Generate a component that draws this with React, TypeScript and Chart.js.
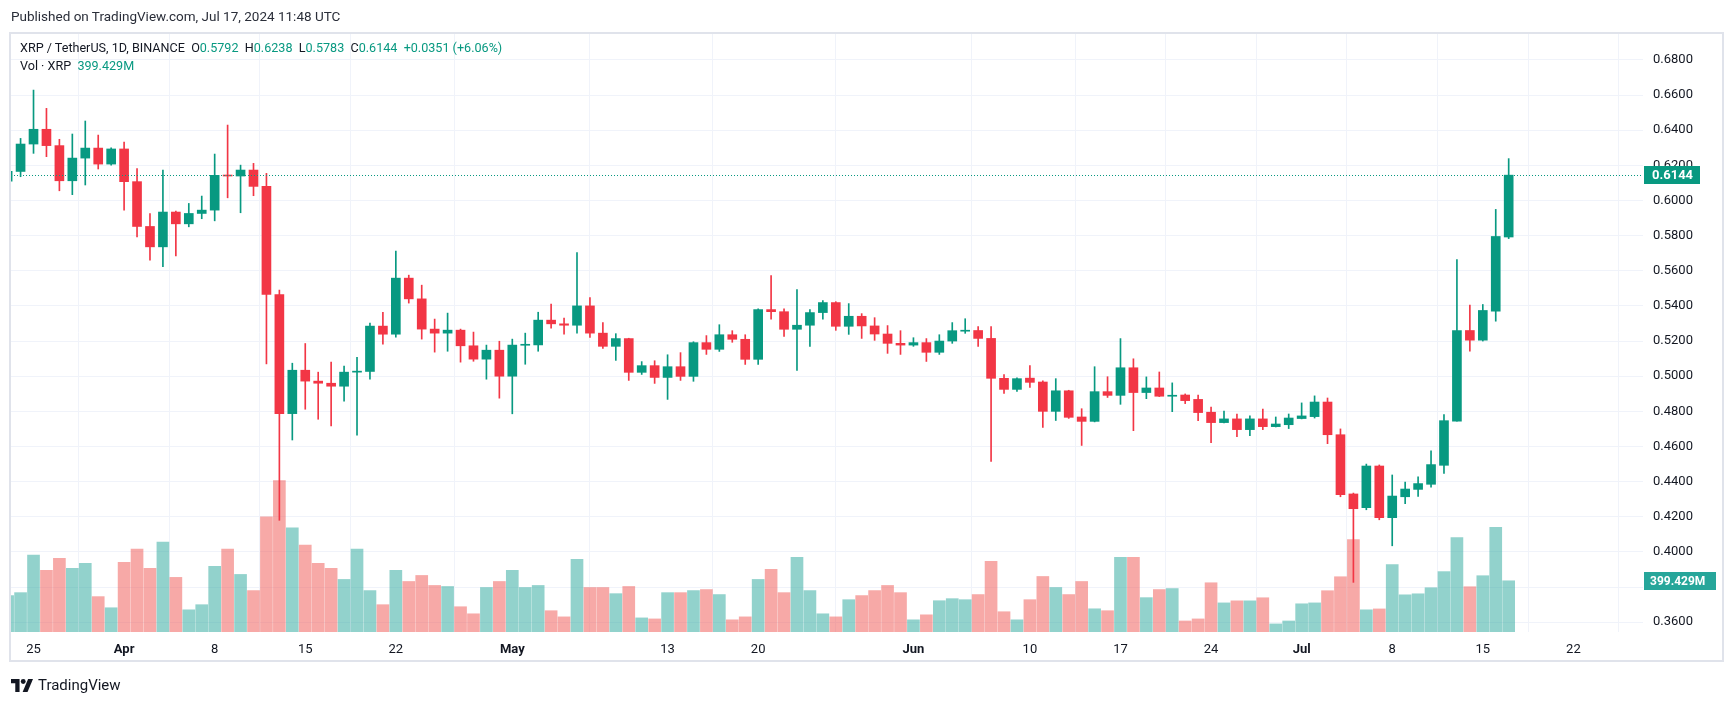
import React, { useEffect, useRef } from "react";
import { Chart, registerables } from "chart.js";

Chart.register(...registerables);

// Day index 0 = Mar 25, 2024. First candle is Mar 23 (day -2), last is Jul 17 (day 114).
const FIRST_DAY = -2;

const OPEN = [
  0.6110, 0.6165, 0.6321, 0.6405, 0.6312, 0.6112, 0.6241, 0.6298, 0.6207, 0.6293,
  0.6107, 0.5852, 0.5736, 0.5934, 0.5867, 0.5926, 0.5945, 0.6143, 0.6139, 0.6173,
  0.6080, 0.5465, 0.4787, 0.5034, 0.4972, 0.4960, 0.4943, 0.5023, 0.5027, 0.5285,
  0.5239, 0.5558, 0.5440, 0.5268, 0.5245, 0.5262, 0.5173, 0.5097, 0.5148, 0.5000,
  0.5176, 0.5178, 0.5319, 0.5298, 0.5290, 0.5400, 0.5245, 0.5170, 0.5214, 0.5022,
  0.5060, 0.4993, 0.5054, 0.4999, 0.5191, 0.5153, 0.5236, 0.5210, 0.5096, 0.5379,
  0.5367, 0.5267, 0.5290, 0.5362, 0.5419, 0.5284, 0.5341, 0.5286, 0.5240, 0.5187,
  0.5177, 0.5191, 0.5136, 0.5200, 0.5256, 0.5260, 0.5215, 0.4988, 0.4925, 0.4989,
  0.4967, 0.4800, 0.4917, 0.4768, 0.4743, 0.4912, 0.4891, 0.5048, 0.4907, 0.4933,
  0.4886, 0.4893, 0.4868, 0.4795, 0.4736, 0.4757, 0.4696, 0.4757, 0.4713, 0.4724,
  0.4759, 0.4770, 0.4853, 0.4667, 0.4330, 0.4252, 0.4489, 0.4195, 0.4314, 0.4356,
  0.4385, 0.4493, 0.4744, 0.5260, 0.5205, 0.5370, 0.5792,
];
const HIGH = [
  0.6180, 0.6353, 0.6628, 0.6524, 0.6348, 0.6378, 0.6452, 0.6372, 0.6300, 0.6332,
  0.6182, 0.5926, 0.6173, 0.5940, 0.5983, 0.6025, 0.6264, 0.6429, 0.6201, 0.6211,
  0.6154, 0.5490, 0.5074, 0.5186, 0.5023, 0.5080, 0.5057, 0.5108, 0.5302, 0.5364,
  0.5712, 0.5575, 0.5518, 0.5325, 0.5359, 0.5268, 0.5251, 0.5177, 0.5199, 0.5211,
  0.5245, 0.5364, 0.5410, 0.5330, 0.5703, 0.5447, 0.5305, 0.5242, 0.5216, 0.5083,
  0.5088, 0.5122, 0.5134, 0.5196, 0.5231, 0.5293, 0.5259, 0.5236, 0.5384, 0.5572,
  0.5384, 0.5493, 0.5379, 0.5430, 0.5424, 0.5413, 0.5356, 0.5333, 0.5288, 0.5259,
  0.5219, 0.5214, 0.5236, 0.5305, 0.5327, 0.5282, 0.5282, 0.5009, 0.4991, 0.5060,
  0.4974, 0.4986, 0.4920, 0.4815, 0.5054, 0.4997, 0.5214, 0.5099, 0.4996, 0.5024,
  0.4962, 0.4899, 0.4893, 0.4825, 0.4802, 0.4785, 0.4774, 0.4813, 0.4768, 0.4785,
  0.4848, 0.4888, 0.4876, 0.4700, 0.4335, 0.4500, 0.4495, 0.4438, 0.4398, 0.4428,
  0.4576, 0.4781, 0.5664, 0.5404, 0.5408, 0.5949, 0.6238,
];
const LOW = [
  0.6080, 0.6135, 0.6268, 0.6249, 0.6055, 0.6033, 0.6088, 0.6179, 0.6201, 0.5945,
  0.5793, 0.5660, 0.5623, 0.5685, 0.5850, 0.5896, 0.5884, 0.6015, 0.5930, 0.6027,
  0.5070, 0.4180, 0.4637, 0.4812, 0.4755, 0.4717, 0.4858, 0.4664, 0.4983, 0.5182,
  0.5222, 0.5416, 0.5211, 0.5137, 0.5142, 0.5080, 0.5085, 0.4983, 0.4875, 0.4786,
  0.5068, 0.5142, 0.5273, 0.5239, 0.5245, 0.5221, 0.5158, 0.5090, 0.4976, 0.5010,
  0.4959, 0.4868, 0.4976, 0.4971, 0.5124, 0.5141, 0.5193, 0.5067, 0.5067, 0.5324,
  0.5227, 0.5033, 0.5170, 0.5324, 0.5261, 0.5238, 0.5215, 0.5204, 0.5130, 0.5124,
  0.5170, 0.5084, 0.5124, 0.5187, 0.5244, 0.5170, 0.4515, 0.4902, 0.4914, 0.4936,
  0.4709, 0.4748, 0.4760, 0.4606, 0.4740, 0.4879, 0.4840, 0.4690, 0.4872, 0.4884,
  0.4798, 0.4844, 0.4747, 0.4622, 0.4734, 0.4656, 0.4662, 0.4696, 0.4711, 0.4702,
  0.4757, 0.4762, 0.4616, 0.4314, 0.3827, 0.4240, 0.4183, 0.4035, 0.4274, 0.4316,
  0.4368, 0.4447, 0.4744, 0.5142, 0.5200, 0.5313, 0.5783,
];
const CLOSE = [
  0.6165, 0.6321, 0.6405, 0.6312, 0.6112, 0.6241, 0.6298, 0.6207, 0.6293, 0.6107,
  0.5852, 0.5736, 0.5934, 0.5867, 0.5926, 0.5945, 0.6143, 0.6139, 0.6173, 0.6080,
  0.5465, 0.4787, 0.5034, 0.4972, 0.4960, 0.4943, 0.5023, 0.5027, 0.5285, 0.5239,
  0.5558, 0.5440, 0.5268, 0.5245, 0.5262, 0.5173, 0.5097, 0.5148, 0.5000, 0.5177,
  0.5179, 0.5319, 0.5298, 0.5290, 0.5400, 0.5245, 0.5170, 0.5214, 0.5022, 0.5060,
  0.4993, 0.5054, 0.4999, 0.5191, 0.5153, 0.5236, 0.5210, 0.5096, 0.5379, 0.5367,
  0.5267, 0.5290, 0.5362, 0.5419, 0.5284, 0.5341, 0.5286, 0.5240, 0.5187, 0.5177,
  0.5191, 0.5136, 0.5200, 0.5259, 0.5260, 0.5215, 0.4988, 0.4925, 0.4986, 0.4965,
  0.4800, 0.4917, 0.4766, 0.4743, 0.4912, 0.4891, 0.5048, 0.4907, 0.4933, 0.4886,
  0.4889, 0.4861, 0.4793, 0.4736, 0.4757, 0.4696, 0.4757, 0.4713, 0.4728, 0.4762,
  0.4774, 0.4853, 0.4667, 0.4326, 0.4246, 0.4489, 0.4195, 0.4318, 0.4358, 0.4389,
  0.4497, 0.4747, 0.5260, 0.5205, 0.5374, 0.5795, 0.6144,
];
// Volume in millions of XRP
const VOLUME = [
  284, 307, 599, 481, 575, 497, 536, 276, 189, 544,
  646, 497, 701, 426, 173, 213, 512, 646, 449, 323,
  898, 1182, 812, 678, 536, 497, 410, 646, 323, 213,
  481, 394, 441, 363, 355, 197, 142, 347, 394, 481,
  347, 363, 166, 118, 567, 347, 347, 299, 355, 110,
  102, 307, 307, 323, 331, 292, 95, 118, 410, 489,
  307, 583, 323, 142, 118, 252, 284, 323, 363, 307,
  95, 134, 244, 260, 252, 292, 552, 158, 95, 252,
  433, 347, 292, 394, 181, 166, 583, 583, 268, 331,
  339, 86, 102, 384, 227, 243, 243, 267, 63, 86,
  220, 227, 322, 431, 721, 173, 180, 525, 290, 298,
  345, 471, 737, 353, 439, 816, 399.429,
];

const PRICE_TICKS = [0.36, 0.38, 0.40, 0.42, 0.44, 0.46, 0.48, 0.50, 0.52, 0.54, 0.56, 0.58, 0.60, 0.62, 0.64, 0.66, 0.68];
const DATE_TICK_DAYS = [0, 7, 14, 21, 28, 37, 49, 56, 68, 77, 84, 91, 98, 105, 112, 119];
const DATE_TICK_LABELS = ["25", "Apr", "8", "15", "22", "May", "13", "20", "Jun", "10", "17", "24", "Jul", "8", "15", "22"];
const MONTH_LABELS = ["Apr", "May", "Jun", "Jul"];

const UP = "#089981";
const DOWN = "#F23645";
const UP_VOL = "rgba(38,166,154,0.5)";
const DOWN_VOL = "rgba(239,83,80,0.5)";
const FONT = "Roboto, 'Open Sans', sans-serif";
const TEXT = "#131722";

const lastPricePlugin = {
  id: "lastPrice",
  afterDatasetsDraw(chart: any) {
    const { ctx, chartArea, scales } = chart;
    const n = CLOSE.length - 1;
    const y = Math.round(scales.y.getPixelForValue(CLOSE[n])) + 0.5;
    ctx.save();
    ctx.strokeStyle = UP;
    ctx.lineWidth = 1;
    ctx.setLineDash([1, 2]);
    ctx.beginPath();
    ctx.moveTo(chartArea.left, y);
    ctx.lineTo(chartArea.right, y);
    ctx.stroke();
    ctx.restore();
  },
  afterDraw(chart: any) {
    const { ctx, chartArea, scales } = chart;
    const n = CLOSE.length - 1;
    const x0 = chartArea.right + 1;
    ctx.save();
    ctx.textBaseline = "middle";
    ctx.textAlign = "left";
    // price tag
    const y = Math.round(scales.y.getPixelForValue(CLOSE[n]));
    ctx.fillStyle = UP;
    ctx.fillRect(x0, y - 9, 56, 18);
    ctx.fillStyle = "#ffffff";
    ctx.font = `bold 13px ${FONT}`;
    ctx.fillText(CLOSE[n].toFixed(4), x0 + 8, y + 1);
    // volume tag
    const yv = Math.round(scales.y2.getPixelForValue(VOLUME[n]));
    ctx.fillStyle = "#26a69a";
    ctx.fillRect(x0, yv - 9, 72, 18);
    ctx.fillStyle = "#ffffff";
    ctx.font = `bold 12px ${FONT}`;
    ctx.fillText(VOLUME[n].toFixed(3) + "M", x0 + 6, yv + 1);
    ctx.restore();
  },
};

function TvLogo() {
  return (
    <svg width="22" height="13" viewBox="0 0 36 21" style={{ display: "block" }}>
      <path d="M0 0 H14 V21 H7 V7 H0 Z" fill="#131722" />
      <circle cx="20" cy="4" r="4" fill="#131722" />
      <path d="M28 0 H36 L27 21 H19 Z" fill="#131722" />
    </svg>
  );
}

export default function App() {
  const canvasRef = useRef<HTMLCanvasElement | null>(null);

  useEffect(() => {
    const canvas = canvasRef.current;
    if (!canvas) return;
    const days = CLOSE.map((_, i) => i + FIRST_DAY);
    const colors = CLOSE.map((c, i) => (c >= OPEN[i] ? UP : DOWN));
    const volColors = CLOSE.map((c, i) => (c >= OPEN[i] ? UP_VOL : DOWN_VOL));

    const chart = new Chart(canvas, {
      type: "bar",
      data: {
        datasets: [
          {
            label: "body",
            data: days.map((d, i) => ({ x: d, y: [OPEN[i], CLOSE[i]] })) as any,
            backgroundColor: colors,
            barThickness: 9,
            grouped: false,
            minBarLength: 1,
            borderWidth: 0,
            yAxisID: "y",
            order: 1,
          } as any,
          {
            label: "wick",
            data: days.map((d, i) => ({ x: d, y: [LOW[i], HIGH[i]] })) as any,
            backgroundColor: colors,
            barThickness: 1,
            grouped: false,
            borderWidth: 0,
            yAxisID: "y",
            order: 2,
          } as any,
          {
            label: "volume",
            data: days.map((d, i) => ({ x: d, y: VOLUME[i] })) as any,
            backgroundColor: volColors,
            barThickness: 12,
            grouped: false,
            borderWidth: 0,
            yAxisID: "y2",
            order: 3,
          } as any,
        ],
      },
      options: {
        responsive: false,
        animation: false,
        devicePixelRatio: 1,
        layout: { autoPadding: false, padding: { left: 11, top: 33, right: 11, bottom: 42 } },
        plugins: { legend: { display: false }, tooltip: { enabled: false } },
        scales: {
          x: {
            type: "linear",
            min: -1.74,
            max: 124.38,
            offset: false,
            afterBuildTicks: (axis: any) => {
              axis.ticks = DATE_TICK_DAYS.map((v) => ({ value: v }));
            },
            afterFit: (axis: any) => {
              axis.height = 29;
            },
            ticks: {
              autoSkip: false,
              maxRotation: 0,
              padding: 10,
              color: TEXT,
              font: (ctx: any) => {
                const idx = DATE_TICK_DAYS.indexOf(ctx.tick ? ctx.tick.value : -999);
                const bold = idx >= 0 && MONTH_LABELS.includes(DATE_TICK_LABELS[idx]);
                return { family: FONT, size: 13, weight: bold ? "bold" : "normal" };
              },
              callback: (v: any) => {
                const idx = DATE_TICK_DAYS.indexOf(Number(v));
                return idx >= 0 ? DATE_TICK_LABELS[idx] : "";
              },
            },
            grid: { color: "#f0f3fa", drawTicks: false },
            border: { display: false },
          } as any,
          y: {
            type: "linear",
            position: "right",
            min: 0.35445,
            max: 0.69528,
            afterBuildTicks: (axis: any) => {
              axis.ticks = PRICE_TICKS.map((v) => ({ value: v }));
            },
            afterFit: (axis: any) => {
              axis.width = 80;
            },
            ticks: {
              padding: 10,
              color: TEXT,
              font: { family: FONT, size: 13 },
              callback: (v: any) => Number(v).toFixed(4),
            },
            grid: { color: "#f0f3fa", drawTicks: false },
            border: { display: false },
          } as any,
          y2: {
            type: "linear",
            display: false,
            min: 0,
            max: 4672,
          },
        },
      },
      plugins: [lastPricePlugin],
    });
    return () => chart.destroy();
  }, []);

  const green = { color: UP };
  return (
    <div
      style={{
        position: "absolute",
        left: 0,
        top: 0,
        width: 1734,
        height: 703,
        background: "#ffffff",
        fontFamily: FONT,
        color: TEXT,
        overflow: "hidden",
      }}
    >
      <canvas ref={canvasRef} width={1734} height={703} style={{ position: "absolute", left: 0, top: 0 }} />
      <div
        style={{
          position: "absolute",
          left: 9,
          top: 32,
          width: 1715,
          height: 630,
          border: "2px solid #e0e3eb",
          boxSizing: "border-box",
          pointerEvents: "none",
        }}
      />
      <div style={{ position: "absolute", left: 11, top: 8, fontSize: 13.5, lineHeight: "17px", color: "#2a2e39" }}>
        Published on TradingView.com, Jul 17, 2024 11:48 UTC
      </div>
      <div style={{ position: "absolute", left: 20, top: 39, fontSize: 12.6, lineHeight: "17px", whiteSpace: "pre" }}>
        <span>XRP / TetherUS, 1D, BINANCE  </span>
        <span>O</span><span style={green}>0.5792</span>
        <span>  H</span><span style={green}>0.6238</span>
        <span>  L</span><span style={green}>0.5783</span>
        <span>  C</span><span style={green}>0.6144</span>
        <span style={green}>  +0.0351 (+6.06%)</span>
      </div>
      <div style={{ position: "absolute", left: 20, top: 57, fontSize: 12.6, lineHeight: "17px", whiteSpace: "pre" }}>
        <span>Vol · XRP  </span><span style={green}>399.429M</span>
      </div>
      <div style={{ position: "absolute", left: 11, top: 676, display: "flex", alignItems: "center", gap: 5 }}>
        <TvLogo />
        <span style={{ fontSize: 15, color: "#131722" }}>TradingView</span>
      </div>
    </div>
  );
}
